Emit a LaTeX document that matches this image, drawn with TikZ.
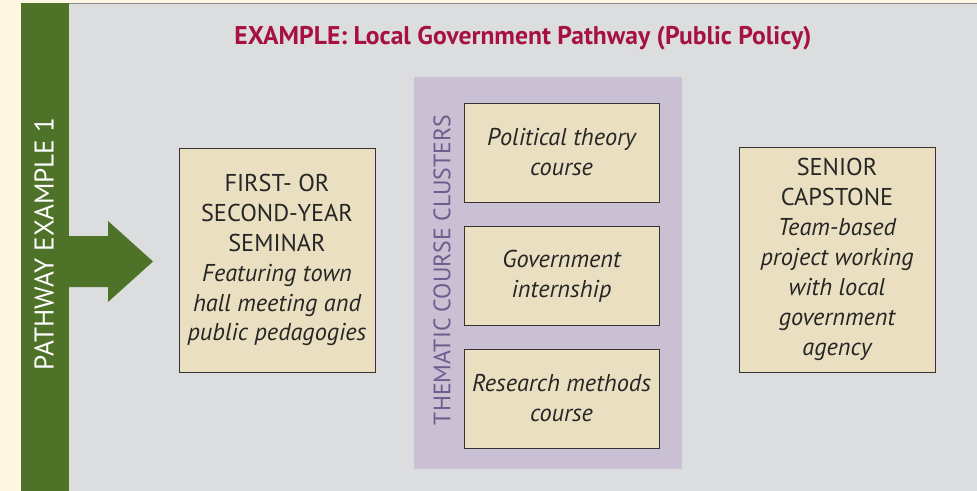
\documentclass[tikz,border=0pt]{standalone}
\usepackage{fontspec}
\setmainfont{PT Sans}
\usetikzlibrary{positioning}

\definecolor{cream}{HTML}{FEF7E4}
\definecolor{panelgray}{HTML}{DCDDDF}
\definecolor{pathgreen}{HTML}{4D7228}
\definecolor{clusterpurple}{HTML}{C9C0D3}
\definecolor{clustertext}{HTML}{6F5B8E}
\definecolor{boxtan}{HTML}{EADFC0}
\definecolor{titlered}{HTML}{A6113F}

\tikzset{
    coursebox/.style={draw=black!80, fill=boxtan, line width=0.6pt, align=center,
        font=\fontsize{17.3}{21.3}\selectfont, text=black!85, inner sep=0pt},
    bigbox/.style={coursebox, minimum width=4.9cm, minimum height=5.6cm},
    clusterbox/.style={coursebox, minimum width=4.875cm, minimum height=2.475cm,
        font=\itshape\fontsize{17.3}{21.3}\selectfont}
}

\begin{document}
\begin{tikzpicture}[x=0.025cm, y=-0.025cm]
    \useasboundingbox (0,0) rectangle (977,491);
    \fill[cream] (0,0) rectangle (977,491);
    \draw[black!45, fill=panelgray] (21,3) rectangle (980,495);

    % green pathway bar and arrow
    \fill[pathgreen] (21,3) rectangle (69,495);
    \fill[pathgreen] (69,236) -- (108,236) -- (108,221) -- (153,261.5)
        -- (108,302) -- (108,287) -- (69,287) -- cycle;
    \node[rotate=90, text=white, font=\fontsize{19.3}{22}\selectfont] (pathway) at (44,244) {PATHWAY EXAMPLE 1};

    \node[text=titlered, font=\bfseries\fontsize{18.2}{22}\selectfont] (title) at (523,38)
        {EXAMPLE: Local Government Pathway (Public Policy)};

    \node[bigbox] (seminar) at (277,260) {FIRST- OR\\SECOND-YEAR\\SEMINAR\\
        \itshape Featuring town\\ \itshape hall meeting and\\ \itshape public pedagogies};

    % thematic clusters
    \node[fill=clusterpurple, minimum width=6.7cm, minimum height=9.8cm, inner sep=0pt] (clusters) at (548,273) {};
    \node[rotate=90, text=clustertext, font=\fontsize{16.9}{20}\selectfont] (clusterlabel) at (442,270) {THEMATIC COURSE CLUSTERS};
    \node[clusterbox] (theory) at (561.5,152.5) {Political theory\\course};
    \node[clusterbox] (internship) at (561.5,276) {Government\\internship};
    \node[clusterbox] (methods) at (561.5,398.5) {Research methods\\course};

    \node[bigbox, minimum height=5.625cm] (capstone) at (837,259.5) {SENIOR\\CAPSTONE\\
        \itshape Team-based\\ \itshape project working\\ \itshape with local\\ \itshape government\\ \itshape agency};
\end{tikzpicture}
\end{document}
